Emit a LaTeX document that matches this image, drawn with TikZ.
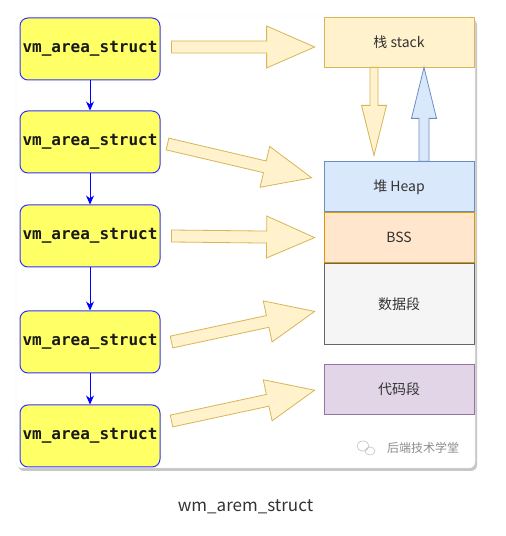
\documentclass[tikz,border=0pt]{standalone}
\usepackage{fontspec}
\setmainfont{Noto Sans CJK SC}
\newfontfamily\vmfont{DejaVu Sans Mono}
\usepackage{xcolor}
\usepackage{tikz}
\usetikzlibrary{positioning, calc, arrows.meta, shadows}

\definecolor{vmfill}{HTML}{FFFF66}
\definecolor{vmdraw}{HTML}{3333FF}
\definecolor{stackfill}{HTML}{FFF2CC}
\definecolor{stackdraw}{HTML}{D6B656}
\definecolor{heapfill}{HTML}{DAE8FC}
\definecolor{heapdraw}{HTML}{6C8EBF}
\definecolor{bssfill}{HTML}{FFE6CC}
\definecolor{bssdraw}{HTML}{D79B00}
\definecolor{datafill}{HTML}{F5F5F5}
\definecolor{datadraw}{HTML}{666666}
\definecolor{codefill}{HTML}{E1D5E7}
\definecolor{codedraw}{HTML}{9673A6}

% fat block arrow: style, from, to, half shaft, half head, head length
\newcommand{\fatarrow}[6]{%
  \draw[#1] let \p1=($(#3)-(#2)$), \n1={atan2(\y1,\x1)}, \n2={veclen(\x1,\y1)-#6} in
    ($(#2)+(\n1+90:#4)$) -- ($(#2)+(\n1:\n2)+(\n1+90:#4)$) -- ($(#2)+(\n1:\n2)+(\n1+90:#5)$) -- (#3)
    -- ($(#2)+(\n1:\n2)+(\n1-90:#5)$) -- ($(#2)+(\n1:\n2)+(\n1-90:#4)$) -- ($(#2)+(\n1-90:#4)$) -- cycle;}

\begin{document}
\begin{tikzpicture}[
    x=1pt, y=1pt,
    card/.style={rectangle, rounded corners=6pt, fill=white, draw=black!5, minimum width=459pt, minimum height=452pt,
        drop shadow={shadow xshift=2pt, shadow yshift=-3pt, fill=black, opacity=0.22}},
    vmbox/.style={rectangle, rounded corners=8pt, draw=vmdraw, fill=vmfill, line width=1pt, minimum width=140pt,
        minimum height=62pt, inner sep=0pt, text=black!90, font=\vmfont\bfseries\fontsize{16}{18}\selectfont},
    seg/.style={rectangle, line width=0.8pt, minimum width=150pt, minimum height=50pt, inner sep=0pt,
        text=black!80, font=\fontsize{14}{16}\selectfont},
    link/.style={-{Stealth[length=9pt,width=8pt]}, draw=blue, line width=1pt},
    fat/.style={draw=stackdraw, fill=stackfill, line width=0.8pt},
    fatup/.style={draw=heapdraw, fill=heapfill, line width=0.8pt}
]
\useasboundingbox (0,0) rectangle (506,536);

\node[card] (card) at (245.5,294) {};

% vm_area_struct list
\node[vmbox] (v1) at (90,487) {vm\_area\_struct};
\node[vmbox, below=30pt of v1] (v2) {vm\_area\_struct};
\node[vmbox, below=31pt of v2] (v3) {vm\_area\_struct};
\node[vmbox, below=43pt of v3] (v4) {vm\_area\_struct};
\node[vmbox, below=31pt of v4] (v5) {vm\_area\_struct};

\draw[link] (v1) -- (v2);
\draw[link] (v2) -- (v3);
\draw[link] (v3) -- (v4);
\draw[link] (v4) -- (v5);

% memory layout
\node[seg, fill=stackfill, draw=stackdraw] (stack) at (399,494) {栈 stack};
\node[seg, fill=heapfill, draw=heapdraw, below=94pt of stack] (heap) {堆 Heap};
\node[seg, fill=bssfill, draw=bssdraw, below=0pt of heap] (bss) {BSS};
\node[seg, fill=datafill, draw=datadraw, minimum height=81pt, below=0pt of bss] (data) {数据段};
\node[seg, fill=codefill, draw=codedraw, below=19pt of data] (code) {代码段};

% arrow ends
\coordinate (a1s) at ($(v1.east)+(11,2)$);
\coordinate (a1t) at ($(stack.west)+(-9,-5)$);
\coordinate (a2s) at ($(v2.east)+(7,-2)$);
\coordinate (a2t) at ($(heap.west)+(-12,9)$);
\coordinate (a3s) at ($(v3.east)+(11,0)$);
\coordinate (a3t) at ($(bss.west)+(-9,0)$);
\coordinate (a4s) at ($(v4.east)+(11,0)$);
\coordinate (a4t) at ($(data.west)+(-9,-7.5)$);
\coordinate (a5s) at ($(v5.east)+(11,15)$);
\coordinate (a5t) at ($(code.west)+(-9,-1)$);
\coordinate (dns) at ($(stack.south)+(-25,0)$);
\coordinate (dnt) at ($(heap.north)+(-25,6)$);
\coordinate (ups) at ($(heap.north)+(25,0)$);
\coordinate (upt) at ($(stack.south)+(25,0)$);

\fatarrow{fat}{a1s}{a1t}{6}{21}{48}
\fatarrow{fat}{a2s}{a2t}{6}{21}{48}
\fatarrow{fat}{a3s}{a3t}{6}{21}{48}
\fatarrow{fat}{a4s}{a4t}{6}{21}{48}
\fatarrow{fat}{a5s}{a5t}{6}{21}{48}
\fatarrow{fat}{dns}{dnt}{4}{12.5}{50}
\fatarrow{fatup}{ups}{upt}{5}{12.5}{51}

% watermark
\node[text=black!45, font=\fontsize{12}{14}\selectfont] (mark) at (423,88) {后端技术学堂};
\draw[black!25, line width=0.6pt] (363,90) circle[x radius=6pt, y radius=5pt]
    (370,85) circle[x radius=5pt, y radius=4pt];

\node[text=black!80, font=\fontsize{17}{20}\selectfont] (caption) at (245.5,29) {wm\_arem\_struct};
\end{tikzpicture}
\end{document}
